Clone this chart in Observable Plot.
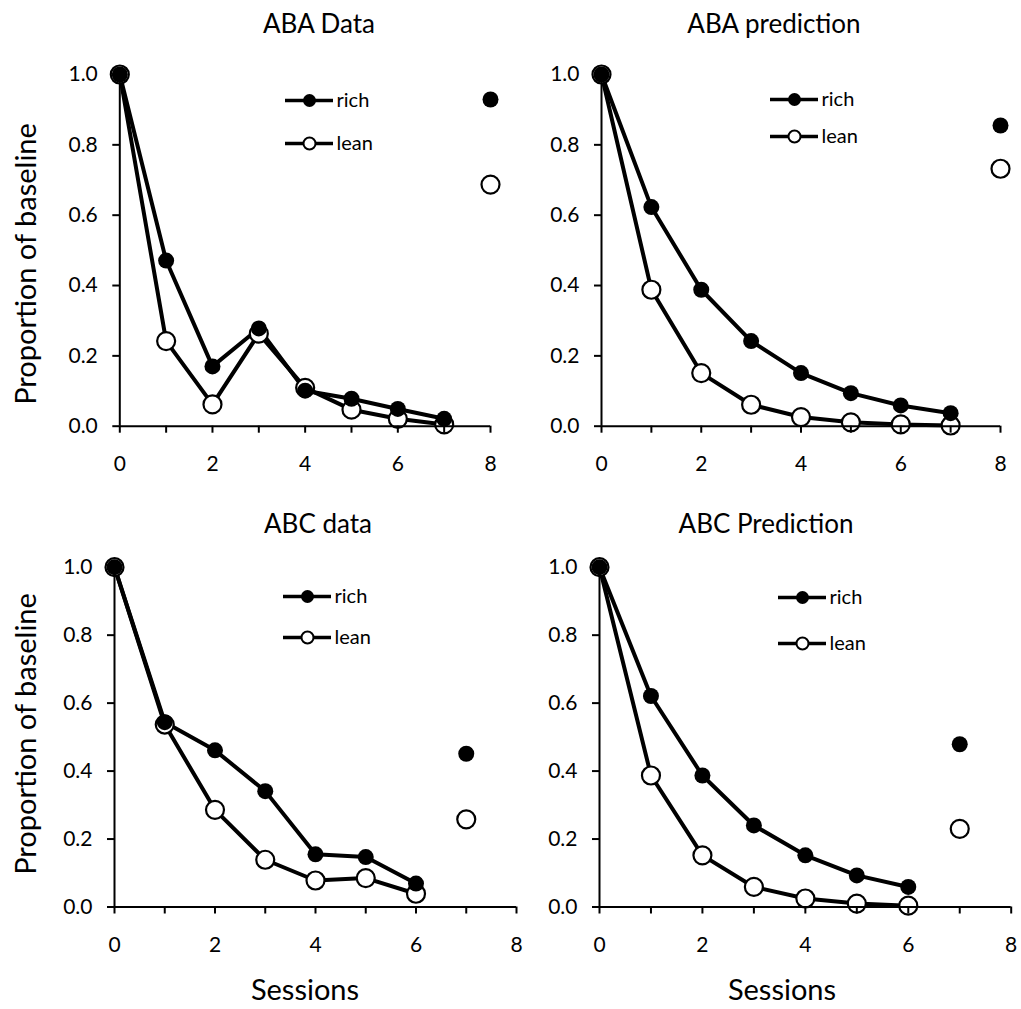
<!DOCTYPE html>
<html><head><meta charset="utf-8">
<script src="https://cdn.jsdelivr.net/npm/d3@7"></script>
<script src="https://cdn.jsdelivr.net/npm/@observablehq/plot@0.6"></script>
<style>
body{margin:0;background:#fff;}
#root{position:relative;width:1021px;height:1009px;font-family:Lato,sans-serif;color:#000;overflow:hidden;}
.box{position:absolute;}
.box svg{max-width:none;overflow:visible;}
.title{position:absolute;font-size:26px;transform:translate(-50%,-50%);white-space:nowrap;line-height:1.2;}
.ylab{position:absolute;font-size:29px;transform:translate(-50%,-50%) rotate(-90deg);white-space:nowrap;line-height:1.2;}
.xlab{position:absolute;font-size:29px;transform:translate(-50%,-50%);white-space:nowrap;line-height:1.2;}
</style></head><body><div id="root"></div>
<script>
// ---- data ----
const panelTitles = ["ABA Data", "ABA prediction", "ABC data", "ABC Prediction"];
const seriesNames = ["rich", "lean"];
const sessionsABA = [0, 1, 2, 3, 4, 5, 6, 7];
const sessionsABC = [0, 1, 2, 3, 4, 5, 6];
const abaDataRich = [1.0, 0.471, 0.170, 0.278, 0.101, 0.078, 0.049, 0.021];
const abaDataLean = [1.0, 0.242, 0.062, 0.263, 0.109, 0.047, 0.021, 0.005];
const abaPredRich = [1.0, 0.623, 0.388, 0.242, 0.151, 0.094, 0.059, 0.037];
const abaPredLean = [1.0, 0.388, 0.151, 0.061, 0.026, 0.011, 0.005, 0.002];
const abcDataRich = [1.0, 0.544, 0.461, 0.341, 0.155, 0.147, 0.069];
const abcDataLean = [1.0, 0.537, 0.286, 0.139, 0.078, 0.085, 0.039];
const abcPredRich = [1.0, 0.621, 0.387, 0.240, 0.152, 0.093, 0.059];
const abcPredLean = [1.0, 0.387, 0.152, 0.059, 0.025, 0.010, 0.004];
// separate (unconnected) test points per panel
const testSession = [8, 8, 7, 7];
const testRich = [0.929, 0.855, 0.451, 0.479];
const testLean = [0.687, 0.732, 0.258, 0.230];
const xTicks = [0, 1, 2, 3, 4, 5, 6, 7, 8];
const yTicks = [0, 0.2, 0.4, 0.6, 0.8, 1.0];
const xLabel = "Sessions";
const yLabel = "Proportion of baseline";

// ---- layout ----
const layout = [
  {left: 0,   top: 40,  W: 510, H: 440, fx: [119.3, 490],  fy: [74, 425.7],  title: [319, 24],  legend: {x: 285, y: 100, gap: 43}},
  {left: 510, top: 40,  W: 511, H: 440, fx: [601, 1000],   fy: [74, 425.7],  title: [774, 24],  legend: {x: 770, y: 99, gap: 37}},
  {left: 0,   top: 530, W: 530, H: 440, fx: [114, 516],    fy: [566.7, 906.5], title: [318, 524], legend: {x: 283, y: 596, gap: 41}},
  {left: 510, top: 530, W: 511, H: 440, fx: [599, 1010.7], fy: [566.7, 906.5], title: [766, 524], legend: {x: 778, y: 597, gap: 46}}
];
const seriesSets = [
  [sessionsABA, abaDataRich, abaDataLean],
  [sessionsABA, abaPredRich, abaPredLean],
  [sessionsABC, abcDataRich, abcDataLean],
  [sessionsABC, abcPredRich, abcPredLean]
];

const root = document.getElementById("root");
const font = "Lato, sans-serif";

function addDiv(cls, text, x, y) {
  const d = document.createElement("div");
  d.className = cls; d.textContent = text;
  d.style.left = x + "px"; d.style.top = y + "px";
  root.appendChild(d);
}

layout.forEach((L, i) => {
  const [sess, richV, leanV] = seriesSets[i];
  const rich = sess.map((s, j) => ({s, v: richV[j]}));
  const lean = sess.map((s, j) => ({s, v: leanV[j]}));
  const testR = [{s: testSession[i], v: testRich[i]}];
  const testL = [{s: testSession[i], v: testLean[i]}];
  const chart = Plot.plot({
    width: L.W, height: L.H,
    marginLeft: L.fx[0] - L.left,
    marginRight: L.left + L.W - L.fx[1],
    marginTop: L.fy[0] - L.top,
    marginBottom: L.top + L.H - L.fy[1],
    style: {fontFamily: font, fontSize: "21px", color: "#000", background: "transparent", overflow: "visible"},
    x: {domain: [0, 8]},
    y: {domain: [0, 1]},
    marks: [
      Plot.line(rich, {x: "s", y: "v", stroke: "#000", strokeWidth: 4}),
      Plot.line(lean, {x: "s", y: "v", stroke: "#000", strokeWidth: 4}),
      Plot.dot(lean, {x: "s", y: "v", r: 9, fill: "#fff", stroke: "#000", strokeWidth: 2.2}),
      Plot.dot(testL, {x: "s", y: "v", r: 9, fill: "#fff", stroke: "#000", strokeWidth: 2.2}),
      Plot.dot(rich, {x: "s", y: "v", r: 8, fill: "#000", stroke: "none"}),
      Plot.dot(testR, {x: "s", y: "v", r: 8, fill: "#000", stroke: "none"}),
      Plot.ruleY([0], {stroke: "#000", strokeWidth: 2}),
      Plot.ruleX([0], {stroke: "#000", strokeWidth: 2}),
      Plot.axisX({ticks: xTicks, tickFormat: d => d % 2 === 0 ? String(d) : "", tickSize: 7, tickPadding: 23, strokeWidth: 2, fontSize: 21, label: null}),
      Plot.axisY({ticks: yTicks, tickFormat: d3.format(".1f"), tickSize: 7, tickPadding: 15, strokeWidth: 2, fontSize: 21, label: null})
    ]
  });
  const box = document.createElement("div");
  box.className = "box";
  box.style.left = L.left + "px"; box.style.top = L.top + "px";
  box.style.width = L.W + "px"; box.style.height = L.H + "px";
  box.appendChild(chart);
  root.appendChild(box);

  // legend (drawn with Plot through its own band/point scales)
  const lg = L.legend;
  const keys = seriesNames.map(k => ({k}));
  const pad = 15;
  const leg = Plot.plot({
    width: 120, height: lg.gap + 2 * pad,
    marginLeft: 0, marginRight: 0, marginTop: pad, marginBottom: pad,
    style: {fontFamily: font, fontSize: "20px", color: "#000", background: "transparent", overflow: "visible"},
    x: {type: "band", domain: ["swatch"], range: [0, 48], padding: 0, axis: null},
    y: {type: "point", domain: seriesNames, range: [pad, pad + lg.gap], padding: 0, axis: null},
    marks: [
      Plot.tickY(keys, {y: "k", x: () => "swatch", stroke: "#000", strokeWidth: 3.4}),
      Plot.dot(keys.filter(d => d.k === "lean"), {y: "k", x: () => "swatch", r: 6, fill: "#fff", stroke: "#000", strokeWidth: 2}),
      Plot.dot(keys.filter(d => d.k === "rich"), {y: "k", x: () => "swatch", r: 6.5, fill: "#000", stroke: "none"}),
      Plot.text(keys, {y: "k", x: () => "swatch", text: "k", dx: 27, textAnchor: "start", fontSize: 20, fill: "#000"})
    ]
  });
  const lbox = document.createElement("div");
  lbox.className = "box";
  lbox.style.left = lg.x + "px"; lbox.style.top = (lg.y - pad) + "px";
  lbox.appendChild(leg);
  root.appendChild(lbox);

  addDiv("title", panelTitles[i], L.title[0], L.title[1]);
});

addDiv("ylab", yLabel, 25, 264);
addDiv("ylab", yLabel, 25, 734);
addDiv("xlab", xLabel, 305, 989);
addDiv("xlab", xLabel, 782, 989);
</script>
</body></html>
